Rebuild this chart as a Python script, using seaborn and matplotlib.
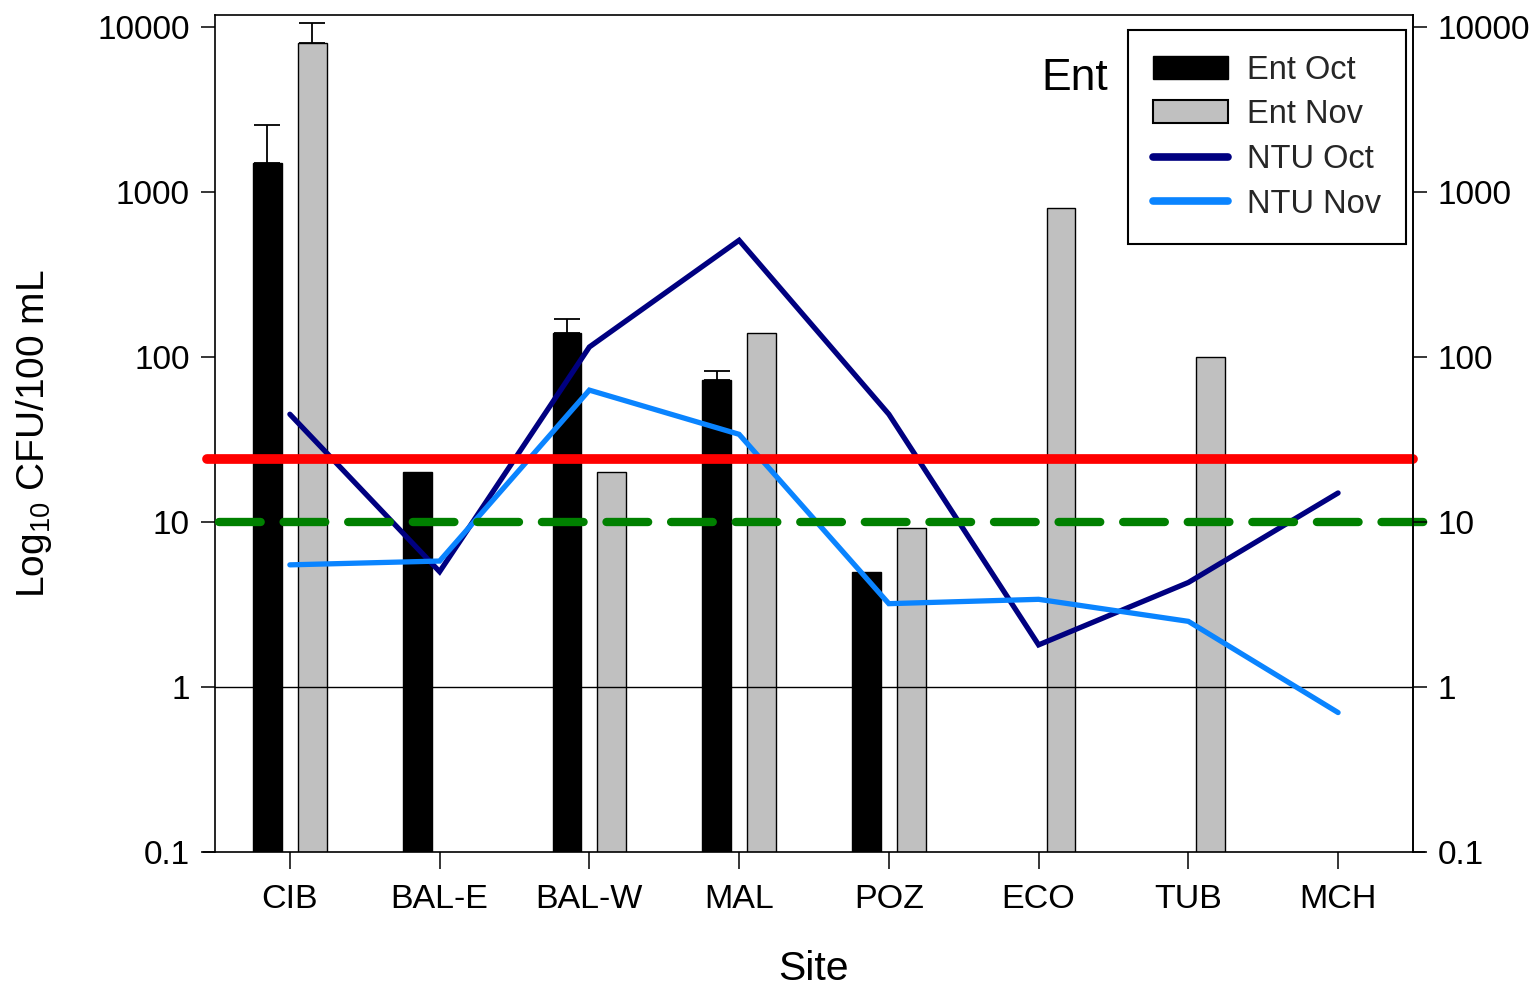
import numpy as np
import pandas as pd
import matplotlib
matplotlib.use("Agg")
import matplotlib.pyplot as plt
from matplotlib.patches import Patch
from matplotlib.lines import Line2D
from matplotlib.ticker import FixedLocator, FixedFormatter, NullLocator
import seaborn as sns

# Sampling sites and measurements
sites = ["CIB", "BAL-E", "BAL-W", "MAL", "POZ", "ECO", "TUB", "MCH"]
ent_oct = [1500, 20, 140, 73, 5, np.nan, np.nan, np.nan]
ent_nov = [8000, np.nan, 20, 140, 9.2, 800, 100, np.nan]
ent_oct_se = [1050, np.nan, 30, 9, np.nan, np.nan, np.nan, np.nan]
ent_nov_se = [2600, np.nan, np.nan, np.nan, np.nan, np.nan, np.nan, np.nan]
ntu_oct = [45, 5.0, 115, 510, 45, 1.8, 4.3, 15]
ntu_nov = [5.5, 5.8, 63, 34, 3.2, 3.4, 2.5, 0.7]
single_sample_limit = 24
geomean_limit = 10
reference_level = 1
tick_values = [0.1, 1, 10, 100, 1000, 10000]
tick_labels = ["0.1", "1", "10", "100", "1000", "10000"]
series_names = ["Ent Oct", "Ent Nov", "NTU Oct", "NTU Nov"]

sns.set_theme(style="white")
plt.rcParams["font.family"] = ["Liberation Sans", "DejaVu Sans"]
plt.rcParams["mathtext.fontset"] = "custom"
plt.rcParams["mathtext.rm"] = "Liberation Sans"
plt.rcParams["mathtext.it"] = "Liberation Sans:italic"

fig = plt.figure(figsize=(15.39, 9.86), dpi=100)
ax = fig.add_axes([0.1397, 0.1359, 0.7784, 0.8489])

bars = pd.DataFrame({
    "site": sites * 2,
    "month": ["Ent Oct"] * len(sites) + ["Ent Nov"] * len(sites),
    "value": ent_oct + ent_nov,
}).dropna()

sns.barplot(data=bars, x="site", y="value", hue="month", order=sites,
            hue_order=["Ent Oct", "Ent Nov"], palette=["black", "#c0c0c0"],
            width=0.6, gap=0.36, errorbar=None,
            edgecolor="black", linewidth=1.0, legend=False, ax=ax, zorder=2)
ax.set_yscale("log")

pos = np.arange(len(sites))
off = 0.15
for shift, vals, se in [(-off, ent_oct, ent_oct_se), (off, ent_nov, ent_nov_se)]:
    v = np.array(vals, dtype=float)
    s = np.array(se, dtype=float)
    m = ~np.isnan(s)
    ax.errorbar(pos[m] + shift, v[m], yerr=[np.zeros(m.sum()), s[m]],
                fmt="none", ecolor="black", elinewidth=1.3, capsize=9.5,
                capthick=1.3, zorder=2.5)

ax.axhline(reference_level, color="black", lw=1.0, zorder=2.2)

sns.lineplot(x=pos, y=ntu_oct, color="#000080", lw=3.8, ax=ax, zorder=3,
             solid_capstyle="round", solid_joinstyle="miter")
sns.lineplot(x=pos, y=ntu_nov, color="#0a84ff", lw=3.8, ax=ax, zorder=3,
             solid_capstyle="round", solid_joinstyle="miter")

trans = ax.get_yaxis_transform()
ax.plot([-0.007, 1.0], [single_sample_limit] * 2, color="#ff0000", lw=7,
        transform=trans, clip_on=False, solid_capstyle="round", zorder=4)
ax.plot([0.003, 1.009], [geomean_limit] * 2, color="#008000", lw=6,
        transform=trans, clip_on=False, dashes=(5.0, 2.75),
        dash_capstyle="round", zorder=4)

ax.set_xlim(-0.5, len(sites) - 0.5)
ax.set_ylim(0.1, 11830)
ax.yaxis.set_major_locator(FixedLocator(tick_values))
ax.yaxis.set_major_formatter(FixedFormatter(tick_labels))
ax.yaxis.set_minor_locator(NullLocator())
ax.set_xticks(pos)
ax.set_xticklabels(sites)

for side in ["left", "right", "top"]:
    ax.spines[side].set_visible(True)
    ax.spines[side].set_color("black")
    ax.spines[side].set_linewidth(1.2)
ax.spines["bottom"].set_visible(False)
ax.plot([-0.01, 1.01], [0, 0], color="black", lw=1.2, transform=ax.transAxes,
        clip_on=False, zorder=5)

ax.tick_params(axis="y", which="major", direction="out", length=10, width=1.1,
               labelsize=24, pad=8, left=True, colors="black")
ax.tick_params(axis="x", direction="out", length=12, width=1.1,
               labelsize=24.5, pad=11, bottom=True, colors="black")

ax2 = ax.twinx()
ax2.set_yscale("log")
ax2.set_ylim(ax.get_ylim())
ax2.yaxis.set_major_locator(FixedLocator(tick_values))
ax2.yaxis.set_major_formatter(FixedFormatter(tick_labels))
ax2.yaxis.set_minor_locator(NullLocator())
ax2.tick_params(axis="y", direction="out", length=10, width=1.1,
                labelsize=24, pad=8, colors="black")
for side in ["left", "bottom", "top"]:
    ax2.spines[side].set_visible(False)
ax2.spines["right"].set_linewidth(1.2)
ax2.spines["right"].set_color("black")

ax.set_xlabel("Site", fontsize=29.5, labelpad=25, color="black")
ax.set_ylabel("Log$_{10}$ CFU/100 mL", fontsize=28, color="black")
ax.yaxis.set_label_coords(-0.134, 0.5)

ax.text(0.7454, 0.9247, "Ent", transform=ax.transAxes, ha="right",
        va="center", fontsize=32, color="black")

handles = [
    Patch(facecolor="black", edgecolor="black", lw=1.0),
    Patch(facecolor="#c0c0c0", edgecolor="black", lw=1.5),
    Line2D([], [], color="#000080", lw=5.5, solid_capstyle="round"),
    Line2D([], [], color="#0a84ff", lw=5.5, solid_capstyle="round"),
]
leg = ax2.legend(handles, series_names, loc="upper right",
                 bbox_to_anchor=(0.994, 0.982), bbox_transform=ax.transAxes,
                 fontsize=23.5, frameon=True, fancybox=False, edgecolor="black",
                 framealpha=1, borderpad=0.75, handlelength=2.3,
                 handletextpad=0.6, labelspacing=0.42, borderaxespad=0)
leg.get_frame().set_linewidth(1.5)

fig.savefig("out.png", dpi=100, facecolor="white")
